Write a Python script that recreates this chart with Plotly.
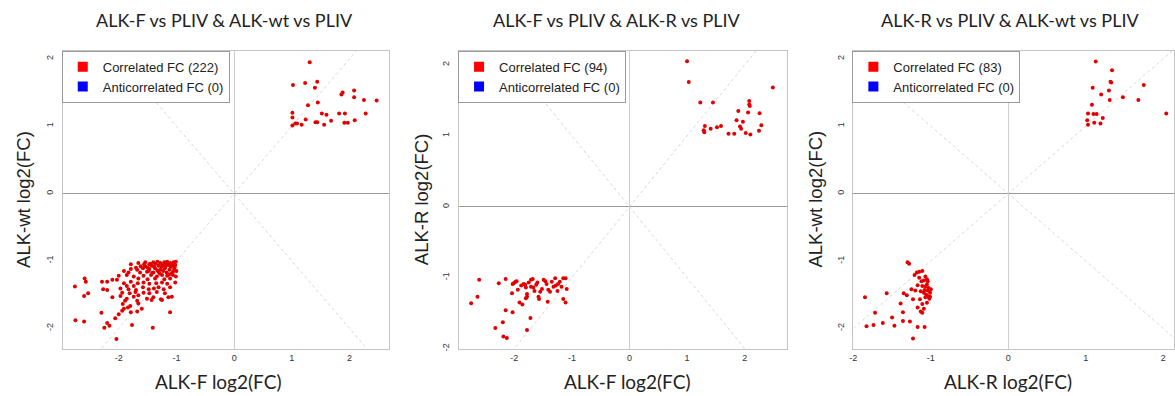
import plotly.graph_objects as go

W, H = 1175, 396

panel_titles = ["ALK-F vs PLIV & ALK-wt vs PLIV",
                "ALK-F vs PLIV & ALK-R vs PLIV",
                "ALK-R vs PLIV & ALK-wt vs PLIV"]
x_titles = ["ALK-F log2(FC)", "ALK-F log2(FC)", "ALK-R log2(FC)"]
y_titles = ["ALK-wt log2(FC)", "ALK-R log2(FC)", "ALK-wt log2(FC)"]
correlated_counts = [222, 94, 83]
anticorrelated_counts = [0, 0, 0]
tick_vals = [-2, -1, 0, 1, 2]
tick_text = ["-2", "-1", "0", "1", "2"]

# Panel 1: ALK-F (x) vs ALK-wt (y)
p1_points = [
    # upper right
    (1.31, 1.95), (1.02, 1.61), (1.23, 1.64), (1.44, 1.66), (1.40, 1.57), (1.88, 1.50),
    (1.86, 1.47), (2.08, 1.53), (2.08, 1.43), (2.25, 1.39), (2.47, 1.38), (1.28, 1.31),
    (1.45, 1.35), (1.01, 1.20), (1.01, 1.13), (1.52, 1.19), (1.60, 1.17), (1.82, 1.19),
    (1.92, 1.19), (2.28, 1.19), (1.24, 1.10), (1.41, 1.06), (1.44, 1.06), (1.68, 1.08),
    (1.91, 1.05), (1.97, 1.05), (2.09, 1.09), (1.01, 1.01), (1.06, 1.04), (1.09, 1.04),
    (1.17, 1.02), (1.56, 1.02),
    # lower left
    (-1.79, -1.05), (-1.66, -1.03), (-1.54, -1.02), (-1.47, -1.05), (-1.40, -1.02), (-1.33, -1.01),
    (-1.28, -1.03), (-1.21, -1.02), (-1.16, -1.01), (-1.11, -1.03), (-1.05, -1.02), (-1.01, -1.01),
    (-1.54, -1.08), (-1.43, -1.07), (-1.31, -1.07), (-1.24, -1.06), (-1.14, -1.06), (-1.08, -1.07),
    (-1.02, -1.06),
    (-1.91, -1.15), (-1.79, -1.12), (-1.68, -1.13), (-1.58, -1.11), (-1.47, -1.12), (-1.37, -1.11),
    (-1.28, -1.13), (-1.20, -1.11), (-1.12, -1.13), (-1.04, -1.12), (-1.00, -1.15), (-1.83, -1.17),
    (-1.63, -1.17), (-1.51, -1.16), (-1.40, -1.17), (-1.31, -1.16), (-1.17, -1.17), (-1.06, -1.16),
    (-2.00, -1.22), (-1.86, -1.21), (-1.74, -1.23), (-1.57, -1.22), (-1.44, -1.21), (-1.34, -1.23),
    (-1.25, -1.21), (-1.16, -1.22), (-1.06, -1.21), (-1.01, -1.23), (-1.66, -1.26), (-1.50, -1.27),
    (-1.37, -1.26), (-1.21, -1.27), (-1.11, -1.26),
    (-2.29, -1.31), (-2.20, -1.31), (-2.11, -1.28), (-2.03, -1.28), (-1.91, -1.33), (-1.79, -1.31),
    (-1.67, -1.33), (-1.57, -1.32), (-1.47, -1.34), (-1.35, -1.33), (-1.25, -1.32), (-1.16, -1.34),
    (-1.02, -1.32), (-2.59, -1.26), (-2.57, -1.31), (-1.86, -1.37), (-1.74, -1.37),
    (-2.76, -1.38), (-2.27, -1.42), (-2.20, -1.43), (-1.97, -1.41), (-1.83, -1.42), (-1.70, -1.43),
    (-1.58, -1.39), (-1.48, -1.42), (-1.39, -1.41), (-1.31, -1.39), (-1.22, -1.42), (-1.11, -1.39),
    (-1.94, -1.47), (-1.81, -1.48), (-1.71, -1.46), (-1.57, -1.47), (-1.47, -1.48), (-1.34, -1.46),
    (-1.20, -1.48), (-2.53, -1.48), (-2.60, -1.52),
    (-2.11, -1.54), (-1.97, -1.52), (-1.86, -1.56), (-1.74, -1.53), (-1.66, -1.51), (-1.51, -1.56),
    (-1.40, -1.54), (-1.27, -1.57), (-1.14, -1.54), (-1.08, -1.53), (-1.89, -1.59), (-1.68, -1.59),
    (-1.43, -1.58), (-1.25, -1.58),
    (-1.93, -1.64), (-1.80, -1.67), (-1.66, -1.63), (-1.91, -1.71), (-1.84, -1.69), (-1.60, -1.71),
    (-2.30, -1.77), (-2.00, -1.79), (-1.79, -1.76), (-1.68, -1.75), (-1.11, -1.76), (-1.94, -1.74),
    (-2.75, -1.88), (-2.60, -1.90), (-2.06, -1.85), (-2.20, -1.92), (-2.16, -1.96), (-2.25, -1.99),
    (-1.77, -1.95), (-1.41, -1.99), (-2.04, -2.16),
    (-1.45, -1.04), (-1.36, -1.04), (-1.26, -1.09), (-1.19, -1.08), (-1.10, -1.09), (-1.03, -1.09),
    (-1.50, -1.10), (-1.33, -1.14), (-1.23, -1.15), (-1.09, -1.19), (-1.13, -1.20), (-1.42, -1.18),
    (-1.56, -1.05), (-1.62, -1.08), (-1.70, -1.10), (-1.29, -1.19), (-1.18, -1.04), (-1.07, -1.04),
    (-1.39, -1.08), (-1.48, -1.15),
]

# Panel 2: ALK-F (x) vs ALK-R (y)
p2_points = [
    # upper right
    (1.00, 2.05), (1.03, 1.76), (1.23, 1.47), (1.45, 1.47), (2.08, 1.49), (2.08, 1.44),
    (2.09, 1.42), (2.49, 1.68), (1.89, 1.35), (2.06, 1.33), (2.26, 1.32), (1.86, 1.22),
    (1.97, 1.20), (1.31, 1.14), (1.52, 1.12), (1.59, 1.14), (1.92, 1.13), (1.94, 1.10),
    (2.29, 1.15), (1.29, 1.08), (1.30, 1.05), (1.41, 1.10), (1.72, 1.03), (1.82, 1.03),
    (2.02, 1.04), (2.10, 1.02), (2.25, 1.07),
    # lower left
    (-2.75, -1.36), (-2.64, -1.27), (-2.61, -1.03), (-2.27, -1.08), (-2.15, -1.02), (-2.03, -1.09),
    (-2.01, -1.08), (-1.98, -1.06), (-1.96, -1.05), (-2.04, -1.22), (-1.94, -1.17), (-1.91, -1.35),
    (-1.86, -1.38), (-1.81, -1.10), (-1.80, -1.14), (-1.78, -1.23), (-1.75, -1.07), (-1.71, -1.03),
    (-1.68, -1.02), (-1.71, -1.13), (-1.67, -1.14), (-1.80, -1.29), (-1.78, -1.27), (-1.65, -1.19),
    (-1.60, -1.07), (-1.55, -1.20), (-1.52, -1.16), (-1.58, -1.27), (-1.57, -1.30), (-1.49, -1.03),
    (-1.46, -1.05), (-1.44, -1.09), (-1.41, -1.17), (-1.38, -1.20), (-1.35, -1.06), (-1.42, -1.34),
    (-1.29, -1.01), (-1.28, -1.11), (-1.25, -1.19), (-1.21, -1.06), (-1.18, -1.13), (-1.15, -1.01),
    (-1.11, -1.01), (-1.09, -1.16), (-1.15, -1.30), (-1.11, -1.35), (-2.15, -1.46), (-2.20, -1.63),
    (-2.33, -1.71), (-2.19, -1.83), (-2.13, -1.85), (-1.72, -1.57), (-1.78, -1.74), (-2.03, -1.49),
    (-1.88, -1.11), (-1.84, -1.09), (-1.62, -1.10), (-1.32, -1.13), (-1.24, -1.09),
]

# Panel 3: ALK-R (x) vs ALK-wt (y)
p3_points = [
    # upper right
    (1.13, 1.96), (1.34, 1.83), (1.09, 1.57), (1.32, 1.66), (1.33, 1.65), (1.75, 1.61),
    (1.20, 1.47), (1.30, 1.53), (1.48, 1.43), (1.31, 1.39), (1.68, 1.39), (1.08, 1.32),
    (1.03, 1.19), (1.10, 1.18), (1.14, 1.18), (1.02, 1.09), (1.22, 1.12), (1.11, 1.05),
    (1.03, 1.02), (1.19, 1.04), (2.04, 1.19),
    # lower left
    (-1.30, -1.02), (-1.28, -1.04), (-1.21, -1.21), (-1.18, -1.17), (-1.15, -1.16), (-1.11, -1.15),
    (-1.07, -1.23), (-1.09, -1.29), (-1.05, -1.27), (-1.17, -1.36), (-1.11, -1.37), (-1.05, -1.35),
    (-1.25, -1.42), (-1.20, -1.44), (-1.13, -1.45), (-1.09, -1.47), (-1.04, -1.44), (-1.01, -1.47),
    (-1.00, -1.42), (-1.35, -1.48), (-1.31, -1.51), (-1.04, -1.52), (-1.01, -1.53), (-1.07, -1.54),
    (-1.23, -1.57), (-1.14, -1.57), (-1.39, -1.63), (-1.05, -1.62), (-1.11, -1.64), (-1.17, -1.69),
    (-1.09, -1.71), (-1.13, -1.75), (-1.11, -1.77), (-1.36, -1.76), (-1.50, -1.84), (-1.36, -1.89),
    (-1.27, -1.90), (-1.17, -1.98), (-1.08, -1.98), (-1.47, -1.96), (-1.57, -1.48), (-1.85, -1.54),
    (-1.72, -1.77), (-1.62, -1.92), (-1.74, -1.95), (-1.83, -1.97), (-1.23, -2.15),
    (-1.03, -1.40), (-1.06, -1.50), (-1.02, -1.56), (-1.08, -1.43), (-1.12, -1.30), (-1.15, -1.25),
    (-1.07, -1.38), (-1.04, -1.30),
]

all_points = [p1_points, p2_points, p3_points]

x_ranges = [[-2.97, 2.69], [-2.96, 2.73], [-2.0, 2.14]]
y_ranges = [[-2.31, 2.12], [-2.01, 2.20], [-2.31, 2.12]]

# layout in pixels
x_dom_px = [(59, 387), (457, 786), (853, 1175)]
y_dom_px = (51, 351)  # top, bottom

title_cx = [221, 616, 1010]
xtitle_cx = [215, 626, 1008]
ytitle_cx = [20, 420, 815]

POINT_RED = "#e30000"
fig = go.Figure()

for i in range(3):
    ax = "" if i == 0 else str(i + 1)
    xref = "x" + ax
    yref = "y" + ax
    xr, yr = x_ranges[i], y_ranges[i]
    # reference diagonals y = x and y = -x
    fig.add_trace(go.Scatter(x=xr, y=xr, mode="lines", xaxis=xref, yaxis=yref,
                             line=dict(color="#d6d6d6", width=1, dash="dot"),
                             showlegend=False, hoverinfo="skip"))
    fig.add_trace(go.Scatter(x=xr, y=[-v for v in xr], mode="lines", xaxis=xref, yaxis=yref,
                             line=dict(color="#d6d6d6", width=1, dash="dot"),
                             showlegend=False, hoverinfo="skip"))
    pts = all_points[i]
    fig.add_trace(go.Scatter(x=[p[0] for p in pts], y=[p[1] for p in pts], mode="markers",
                             xaxis=xref, yaxis=yref,
                             marker=dict(color=POINT_RED, size=4, line=dict(width=0)),
                             showlegend=False))
    leg = "legend" if i == 0 else "legend" + str(i + 1)
    fig.add_trace(go.Scatter(x=[None], y=[None], mode="markers", xaxis=xref, yaxis=yref,
                             marker=dict(color="#ff0000", symbol="square", size=10),
                             name="Correlated FC (%d)" % correlated_counts[i], legend=leg))
    fig.add_trace(go.Scatter(x=[None], y=[None], mode="markers", xaxis=xref, yaxis=yref,
                             marker=dict(color="#0000ff", symbol="square", size=10),
                             name="Anticorrelated FC (%d)" % anticorrelated_counts[i], legend=leg))

    x0, x1 = x_dom_px[i]
    axis_common = dict(showgrid=False, ticks="", showline=True, mirror=True,
                       linecolor="#c4c4c4", linewidth=1,
                       tickvals=tick_vals, ticktext=tick_text,
                       tickfont=dict(family="Arial", size=9, color="#333333"))
    fig.update_layout(**{
        "xaxis" + ax: dict(domain=[x0 / W, min(x1 / W, 1.0)], range=xr, anchor=yref,
                           zeroline=True, zerolinecolor="#cfcfcf", zerolinewidth=1,
                           **axis_common),
        "yaxis" + ax: dict(domain=[1 - y_dom_px[1] / H, 1 - y_dom_px[0] / H], range=yr,
                           anchor=xref, zeroline=True, zerolinecolor="#9a9a9a",
                           zerolinewidth=1, tickangle=-90, ticklabelstandoff=5,
                           **axis_common),
        leg: dict(x=(x0 - 1) / W, y=1 - y_dom_px[0] / H, xanchor="left", yanchor="top",
                  bordercolor="#9a9a9a", borderwidth=1, bgcolor="white",
                  font=dict(family="Arial", size=13, color="#222222"),
                  itemsizing="trace", tracegroupgap=0),
    })

    fig.add_annotation(text=panel_titles[i], x=title_cx[i] / W, y=1 - 20 / H,
                       xref="paper", yref="paper", showarrow=False,
                       xanchor="center", yanchor="middle",
                       font=dict(family="Lato", size=18, color="#222222"))
    fig.add_annotation(text=x_titles[i], x=xtitle_cx[i] / W, y=1 - 383 / H,
                       xref="paper", yref="paper", showarrow=False,
                       xanchor="center", yanchor="middle",
                       font=dict(family="Lato", size=19, color="#222222"))
    fig.add_annotation(text=y_titles[i], x=ytitle_cx[i] / W, y=1 - 200 / H,
                       xref="paper", yref="paper", showarrow=False, textangle=-90,
                       xanchor="center", yanchor="middle",
                       font=dict(family="Arial", size=18.5, color="#222222"))

fig.update_layout(width=W, height=H, margin=dict(l=0, r=0, t=0, b=0),
                  paper_bgcolor="white", plot_bgcolor="white")

fig.write_html("out.html")
